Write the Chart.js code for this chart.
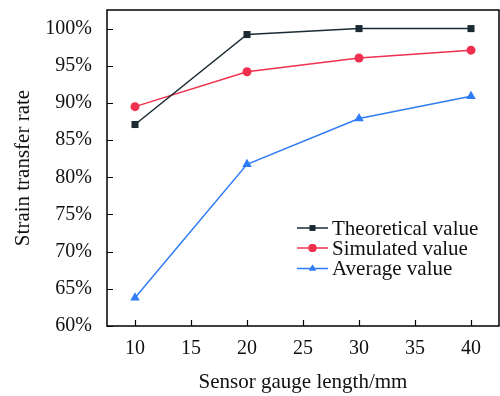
<!DOCTYPE html>
<html>
<head>
<meta charset="utf-8">
<script src="https://cdn.jsdelivr.net/npm/chart.js@4"></script>
<style>
html,body{margin:0;padding:0;background:#fff;}
#wrap{width:500px;height:396px;position:relative;}
</style>
</head>
<body>
<div id="wrap"><canvas id="c" width="500" height="396"></canvas></div>
<script>
const gaugeLengths = [10, 20, 30, 40];
const theoretical = [87.1, 99.2, 100.0, 100.0];
const simulated = [89.5, 94.2, 96.05, 97.1];
const average = [63.8, 81.75, 87.9, 90.9];
const seriesNames = ['Theoretical value', 'Simulated value', 'Average value'];
const xTicks = [10, 15, 20, 25, 30, 35, 40];
const yTicks = [60, 65, 70, 75, 80, 85, 90, 95, 100];

const FONT = "'Liberation Serif', 'Times New Roman', serif";
const colors = ['#1c2b33', '#f0304f', '#2f7cf6'];
const styles = ['rect', 'circle', 'triangle'];
const radii = [5, 4.5, 5.5];

function pts(arr){ return gaugeLengths.map((x,i)=>({x:x, y:arr[i]})); }

const frameTicks = {
  id: 'frameTicks',
  afterDraw(chart){
    const ctx = chart.ctx, a = chart.chartArea;
    const xs = chart.scales.x, ys = chart.scales.y;
    ctx.save();
    ctx.strokeStyle = '#000';
    ctx.lineWidth = 1.5;
    ctx.strokeRect(a.left, a.top, a.right - a.left, a.bottom - a.top);
    ctx.lineWidth = 1.2;
    ctx.beginPath();
    xTicks.forEach(v=>{
      const px = Math.round(xs.getPixelForValue(v)) + 0.5;
      ctx.moveTo(px, a.bottom); ctx.lineTo(px, a.bottom - 6);
    });
    yTicks.forEach(v=>{
      const py = Math.round(ys.getPixelForValue(v)) + 0.5;
      ctx.moveTo(a.left, py); ctx.lineTo(a.left + 6, py);
    });
    ctx.stroke();
    // legend
    const lx = 297, lw = 31, ty = [228, 248, 268.5];
    ctx.font = "21px " + FONT;
    ctx.textBaseline = 'middle';
    ctx.textAlign = 'left';
    chart.data.datasets.forEach((ds, i)=>{
      const y = ty[i];
      ctx.strokeStyle = ds.borderColor;
      ctx.lineWidth = 1.5;
      ctx.beginPath(); ctx.moveTo(lx, y); ctx.lineTo(lx + lw, y); ctx.stroke();
      ctx.fillStyle = ds.borderColor;
      Chart.helpers.drawPoint(ctx, {pointStyle: ds.pointStyle, radius: 4, borderWidth: 0, rotation: 0}, lx + lw/2, y);
      ctx.fill();
      ctx.fillStyle = '#111';
      ctx.fillText(ds.label, lx + lw + 4, y + 1);
    });
    ctx.restore();
  }
};

const datasets = [theoretical, simulated, average].map((arr, i)=>({
  label: seriesNames[i],
  data: pts(arr),
  borderColor: colors[i],
  backgroundColor: colors[i],
  borderWidth: 1.5,
  pointStyle: styles[i],
  pointRadius: radii[i],
  pointBorderWidth: 0,
  pointBackgroundColor: colors[i],
  tension: 0
}));

new Chart(document.getElementById('c'), {
  type: 'line',
  data: { datasets },
  plugins: [frameTicks],
  options: {
    responsive: false,
    animation: false,
    devicePixelRatio: 1,
    layout: { autoPadding: false, padding: { top: 10, right: 1, left: 0, bottom: 0 } },
    plugins: { legend: { display: false }, tooltip: { enabled: false } },
    scales: {
      x: {
        type: 'linear',
        min: 7.5, max: 42.5,
        afterBuildTicks(s){ s.ticks = xTicks.map(v=>({value:v})); },
        afterFit(s){ s.height = 70; s.paddingLeft = 0; s.paddingRight = 0; },
        grid: { display: false, drawTicks: false, tickLength: 0 },
        border: { display: false },
        ticks: { color: '#111', font: { family: FONT, size: 20 }, padding: 11, maxRotation: 0 },
        title: { display: true, text: 'Sensor gauge length/mm', color: '#111', font: { family: FONT, size: 21 }, padding: { top: 0, bottom: 1 } }
      },
      y: {
        type: 'linear',
        min: 60, max: 102.5,
        afterBuildTicks(s){ s.ticks = yTicks.map(v=>({value:v})); },
        afterFit(s){ s.width = 107; s.paddingTop = 0; s.paddingBottom = 0; },
        grid: { display: false, drawTicks: false, tickLength: 0 },
        border: { display: false },
        ticks: { color: '#111', font: { family: FONT, size: 20 }, padding: 15, callback: v => v + '%' },
        title: { display: true, text: 'Strain transfer rate', color: '#111', font: { family: FONT, size: 21 }, padding: { top: 11, bottom: 0 } }
      }
    }
  }
});
</script>
</body>
</html>
